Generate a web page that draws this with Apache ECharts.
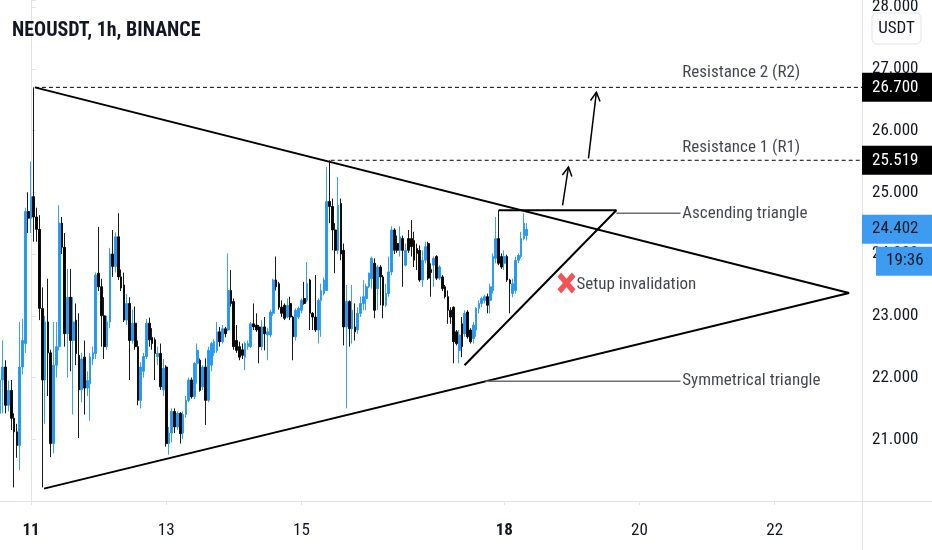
<!DOCTYPE html>
<html><head><meta charset="utf-8">
<script src="https://cdn.jsdelivr.net/npm/echarts@6/dist/echarts.min.js"></script>
<style>html,body{margin:0;padding:0;background:#fff}#c{width:932px;height:550px}</style>
</head><body><div id="c"></div><script>
// hours counted from the 11th 00:00, one candle per hour
const hourStart = -11, hourEnd = 295;
const opens = [21.42,21.96,22.17,21.55,21.79,21.34,21.12,20.90,22.17,22.55,24.69,
24.58,24.93,24.60,24.40,23.12,21.96,22.90,22.40,20.93,22.20,
22.50,24.50,24.11,22.71,23.30,22.60,22.93,22.36,21.80,22.33,
21.83,21.90,22.30,22.39,23.69,23.47,23.00,22.50,22.90,24.00,
23.80,24.28,23.63,23.50,22.93,23.20,22.60,22.88,22.50,21.63,
22.10,22.34,22.88,22.65,22.61,22.34,22.39,21.80,22.17,20.93,
21.10,21.45,21.20,21.42,21.10,21.40,21.63,21.96,21.69,22.23,
22.28,21.85,22.17,21.63,22.20,22.40,22.44,22.74,22.58,22.79,
22.77,23.41,23.23,22.60,22.50,22.45,22.33,22.50,22.50,22.87,
22.85,22.82,22.50,22.82,22.69,22.69,23.04,23.58,23.52,23.14,
23.17,22.98,23.20,22.98,22.66,22.98,23.09,23.28,23.25,23.58,
23.04,22.98,22.77,23.25,23.36,23.41,24.85,24.77,24.39,24.06,
24.82,24.06,22.82,23.23,22.79,22.82,22.77,23.04,23.20,23.28,
23.47,23.60,23.85,23.44,23.79,23.63,23.17,23.36,23.71,24.39,
24.17,24.06,24.25,23.82,24.25,24.25,24.22,24.09,24.06,23.58,
23.90,24.17,23.75,23.82,23.96,23.61,23.63,23.47,23.31,23.09,
23.14,22.74,22.44,22.87,22.71,23.06,22.77,22.63,22.77,23.12,
23.20,23.25,23.31,23.25,23.41,23.93,24.25,23.96,23.85,23.96,
23.58,23.36,23.41,23.90,23.96,24.25,24.30];
const closes = [21.96,22.17,21.55,21.79,21.34,21.12,20.90,22.17,22.60,24.69,24.58,
24.93,24.60,24.40,23.12,21.96,22.90,22.40,20.93,22.20,22.50,
24.50,24.11,22.71,23.30,22.60,22.90,22.39,21.80,22.30,21.83,
21.95,22.33,22.40,23.66,23.47,23.00,22.50,22.90,24.00,23.80,
24.28,23.63,23.45,22.93,23.20,22.60,22.88,22.50,21.63,22.17,
22.34,22.88,22.61,22.55,22.39,22.39,21.85,22.15,20.93,21.10,
21.45,21.20,21.42,21.09,21.40,21.63,21.96,21.69,22.23,22.44,
21.79,22.17,21.63,22.44,22.55,22.58,22.74,22.58,22.79,22.71,
23.41,23.20,22.50,22.44,22.33,22.36,22.55,22.55,22.87,22.82,
22.77,22.50,22.82,22.71,22.74,23.06,23.58,23.47,23.14,23.04,
22.96,23.17,22.98,22.66,23.09,23.12,23.25,23.20,23.52,23.04,
22.98,22.77,23.25,23.41,23.58,24.85,24.77,24.39,24.06,24.79,
24.00,22.82,23.23,22.79,23.09,22.74,23.04,23.20,23.31,23.47,
23.69,23.93,23.09,23.79,23.63,23.17,23.36,23.71,24.39,24.06,
24.06,24.28,24.06,24.06,24.06,24.12,23.90,24.01,23.58,23.90,
24.12,23.61,23.70,23.93,23.61,23.79,23.44,23.31,23.09,22.98,
22.58,22.55,22.69,22.50,23.04,22.66,22.58,22.85,23.12,23.20,
23.28,23.31,23.17,23.47,23.96,24.25,23.85,23.79,23.96,23.58,
23.52,23.52,23.90,23.98,24.25,24.50,24.40];
const lows = [20.88,21.42,21.42,21.45,21.15,20.22,20.70,20.50,22.05,22.40,24.34,
24.34,24.20,24.20,22.93,20.22,21.25,21.70,20.71,20.77,22.00,
22.44,24.00,22.50,22.00,22.10,21.40,22.20,21.02,21.60,21.40,
21.70,21.30,22.20,22.30,23.40,22.50,22.30,22.45,22.80,23.63,
23.70,23.58,23.40,22.90,22.85,21.96,22.55,22.45,21.55,21.50,
22.00,22.30,22.50,22.45,21.96,22.20,21.80,21.70,20.88,20.75,
20.95,21.10,21.15,20.93,21.00,21.35,21.60,21.66,21.65,21.90,
21.77,21.80,21.23,21.60,22.10,22.35,22.40,22.50,22.55,22.65,
22.75,23.15,22.45,22.40,22.28,22.30,22.12,22.45,22.48,22.77,
22.74,22.23,22.44,22.44,22.28,22.65,23.00,23.41,23.10,22.98,
22.93,22.96,22.93,22.28,22.60,22.95,23.04,23.18,23.22,22.77,
22.77,22.74,22.55,22.66,23.33,23.40,24.50,24.06,23.69,24.00,
23.90,22.52,21.50,22.50,22.55,22.60,22.71,22.98,23.09,23.09,
23.45,23.44,22.96,23.09,23.17,22.96,23.14,23.31,23.66,24.00,
24.02,23.96,23.47,23.80,24.02,23.96,23.79,23.74,23.55,23.47,
23.85,23.58,23.31,23.47,23.58,23.58,23.40,23.28,22.87,22.87,
22.23,22.52,22.23,22.33,22.66,22.63,22.55,22.55,22.66,23.04,
23.14,23.20,23.04,23.04,23.36,23.85,23.82,23.76,23.74,23.55,
23.04,23.30,23.36,23.85,23.93,24.22,24.22];
const highs = [22.60,22.60,22.28,21.95,21.96,21.42,21.25,22.90,22.95,24.75,25.00,
25.50,26.70,24.75,24.63,23.46,23.00,23.60,22.45,22.90,22.90,
24.79,24.60,24.34,23.76,23.76,23.30,23.20,23.04,22.40,22.60,
22.10,22.40,22.50,23.70,24.44,23.60,23.30,23.00,24.10,24.39,
24.35,24.66,23.75,23.70,23.35,23.30,23.10,23.15,22.60,22.25,
22.40,22.95,22.97,22.80,22.65,22.50,22.55,22.30,22.20,21.20,
21.50,21.50,21.45,21.44,21.45,21.70,22.00,22.00,22.25,22.55,
22.31,22.20,22.31,22.50,22.58,22.62,22.90,22.82,22.85,22.82,
24.01,23.74,23.28,22.85,22.58,22.55,22.58,22.60,22.90,23.20,
23.04,22.85,22.93,22.98,22.80,23.10,23.60,23.96,23.55,23.25,
23.20,23.28,23.31,23.00,23.12,23.15,23.28,23.55,23.87,23.60,
23.06,23.66,23.28,23.52,23.62,25.41,25.52,24.90,24.50,25.25,
24.90,24.17,23.50,23.25,23.50,23.20,23.14,23.31,23.58,23.52,
23.70,23.96,23.93,23.82,23.82,23.66,23.52,23.96,24.45,24.42,
24.30,24.45,24.30,24.17,24.39,24.55,24.36,24.17,24.14,24.06,
24.20,24.20,23.85,23.96,23.98,23.82,23.66,23.50,23.41,23.14,
23.15,22.77,22.77,22.98,23.09,23.09,22.80,22.90,23.14,23.25,
23.31,23.34,23.36,23.52,24.01,24.60,24.71,24.01,24.06,23.99,
23.60,23.60,23.96,24.01,24.36,24.66,24.50];

const dayTickHours = [0, 48, 96, 168, 216, 264];
const dayTickLabels = ['11', '13', '15', '18', '20', '22'];
const boldTickLabels = ['11', '18'];
const yMin = 20, yMax = 28.115, yStep = 1;
const r2Price = 26.7, r1Price = 25.519, lastPrice = 24.402, countdown = '19:36';
const titleText = 'NEOUSDT, 1h, BINANCE';
const currencyText = 'USDT';

// drawings (hour, price)
const symTriangle = [[1.4, 26.7], [290.4, 23.37], [4.6, 20.2]];
const ascTriangle = [[166, 24.71], [207.8, 24.71], [153.9, 22.2]];
const r2Line = [[1.4, 26.7], [295, 26.7]];
const r1Line = [[106.4, 25.519], [295, 25.519]];
const ascCallout = [[207.8, 24.66], [230.6, 24.66]];
const symCallout = [[161.3, 21.94], [230.6, 21.94]];
const arrowSegments = [[188.7, 24.79, 190.8, 25.41], [197.9, 25.55, 200.7, 26.62]];
const invalidPoint = [190.1, 23.53];
const invalidText = 'Setup invalidation';
const noteNames = ['Resistance 2 (R2)', 'Resistance 1 (R1)', 'Ascending triangle', 'Symmetrical triangle'];
const noteHours = [231.2, 231.2, 231.2, 231.2];
const notePrices = [26.93, 25.72, 24.65, 21.94];

const FONT = "'Liberation Sans Narrow','Roboto Condensed','DejaVu Sans Condensed',Roboto,sans-serif";
const TXT = '#131722';
const FRAME = '#e0e3eb';
const UP = '#2196f3', DOWN = '#000000';

const categories = [];
for (let h = hourStart; h <= hourEnd; h++) categories.push(String(h));
const candles = opens.map((o, i) => [o, closes[i], lows[i], highs[i]]);

const chart = echarts.init(document.getElementById('c'), null, {renderer: 'canvas'});

function lineSeries(data, style) {
  return {type: 'line', xAxisIndex: 1, yAxisIndex: 0, data: data, showSymbol: false, symbol: 'none',
    silent: true, animation: false, z: 5, lineStyle: style};
}

chart.setOption({
  animation: false,
  backgroundColor: '#ffffff',
  grid: {left: 0, right: 70, top: 0, bottom: 49, containLabel: false, outerBoundsMode: 'none'},
  xAxis: [{
    type: 'category', data: categories, boundaryGap: false,
    axisLine: {show: true, lineStyle: {color: FRAME, width: 1}},
    axisTick: {show: true, length: 4, lineStyle: {color: FRAME},
      interval: (i, v) => dayTickHours.indexOf(+v) >= 0},
    axisLabel: {
      interval: (i, v) => dayTickHours.indexOf(+v) >= 0,
      margin: 21, color: TXT, fontSize: 17, fontFamily: FONT,
      formatter: v => {
        const k = dayTickHours.indexOf(+v);
        if (k < 0) return '';
        const s = dayTickLabels[k];
        return boldTickLabels.indexOf(s) >= 0 ? '{b|' + s + '}' : s;
      },
      rich: {b: {fontWeight: 'bold', fontSize: 17, fontFamily: FONT, color: TXT}}
    },
    splitLine: {show: false}
  }, {
    type: 'value', min: hourStart, max: hourEnd, show: false, splitLine: {show: false}
  }],
  yAxis: [{
    type: 'value', position: 'right', min: yMin, max: yMax, interval: yStep, scale: true,
    axisLine: {show: true, lineStyle: {color: FRAME}},
    axisTick: {show: true, length: 5, lineStyle: {color: FRAME}},
    splitLine: {show: false},
    axisLabel: {
      margin: 10, color: TXT, fontSize: 17, fontFamily: FONT,
      formatter: v => (Math.abs(v - Math.round(v)) < 1e-6 && v > yMin + 0.5) ? v.toFixed(3) : ''
    }
  }],
  series: [
    {
      type: 'candlestick', xAxisIndex: 0, yAxisIndex: 0, data: candles, barWidth: 2.2,
      itemStyle: {color: UP, color0: DOWN, borderColor: UP, borderColor0: DOWN, borderWidth: 0.9},
      z: 2
    },
    lineSeries(symTriangle, {color: '#000', width: 2}),
    lineSeries(ascTriangle, {color: '#000', width: 2}),
    lineSeries(r2Line, {color: '#000', width: 1, type: [4, 3]}),
    lineSeries(r1Line, {color: '#000', width: 1, type: [4, 3]}),
    lineSeries(ascCallout, {color: '#6b6e75', width: 1.5}),
    lineSeries(symCallout, {color: '#6b6e75', width: 1.5}),
    {
      type: 'custom', xAxisIndex: 1, yAxisIndex: 0, data: arrowSegments, silent: true, z: 6,
      encode: {x: [0, 2], y: [1, 3]},
      renderItem: (params, api) => {
        const p0 = api.coord([api.value(0), api.value(1)]);
        const p1 = api.coord([api.value(2), api.value(3)]);
        const a = Math.atan2(p1[1] - p0[1], p1[0] - p0[0]);
        const L = 10, s = 0.5;
        const h1 = [p1[0] - L * Math.cos(a - s), p1[1] - L * Math.sin(a - s)];
        const h2 = [p1[0] - L * Math.cos(a + s), p1[1] - L * Math.sin(a + s)];
        return {type: 'group', children: [
          {type: 'line', shape: {x1: p0[0], y1: p0[1], x2: p1[0], y2: p1[1]}, style: {stroke: '#000', lineWidth: 1.5}},
          {type: 'polyline', shape: {points: [h1, p1, h2]}, style: {stroke: '#000', lineWidth: 1.5, fill: null}}
        ]};
      }
    },
    {
      type: 'scatter', xAxisIndex: 1, yAxisIndex: 0, silent: true, z: 7,
      symbol: 'path://M4,0 L10,6 L16,0 L20,4 L14,10 L20,16 L16,20 L10,14 L4,20 L0,16 L6,10 L0,4 Z',
      symbolSize: [18, 21],
      itemStyle: {color: '#f0282d'},
      data: [{name: invalidText, value: invalidPoint}],
      label: {show: true, position: 'right', distance: 1, formatter: '{b}', color: TXT, fontSize: 17, fontFamily: FONT, offset: [0, 2]}
    },
    {
      type: 'scatter', xAxisIndex: 1, yAxisIndex: 0, silent: true, z: 7, symbolSize: 0,
      data: noteNames.map((n, i) => ({name: n, value: [noteHours[i], notePrices[i]]})),
      label: {show: true, position: 'right', distance: 0, formatter: '{b}', color: TXT, fontSize: 17, fontFamily: FONT}
    }
  ]
});

// overlays placed from the axes' own scales
const xr = chart.convertToPixel({xAxisIndex: 1}, hourEnd);
const yb = chart.convertToPixel({yAxisIndex: 0}, yMin);
const W = chart.getWidth(), H = chart.getHeight();
function priceBox(price, text, bg, fg, x0, dy) {
  const y = chart.convertToPixel({yAxisIndex: 0}, price) + (dy || 0);
  return [
    {type: 'rect', shape: {x: x0, y: y - 14.5, width: W - x0, height: 29}, style: {fill: bg}, z: 100},
    {type: 'text', x: x0 + 10, y: y, style: {text: text, fill: fg, font: '17px ' + FONT, textVerticalAlign: 'middle'}, z: 101}
  ];
}
const g = [];
g.push({type: 'line', shape: {x1: xr + 0.5, y1: 0, x2: xr + 0.5, y2: H}, style: {stroke: FRAME, lineWidth: 1}, z: 90});
g.push({type: 'line', shape: {x1: 0, y1: yb + 0.5, x2: W, y2: yb + 0.5}, style: {stroke: FRAME, lineWidth: 1}, z: 90});
g.push(...priceBox(r2Price, r2Price.toFixed(3), '#000', '#fff', xr));
g.push(...priceBox(r1Price, r1Price.toFixed(3), '#000', '#fff', xr));
g.push(...priceBox(lastPrice, lastPrice.toFixed(3), '#3d9cf0', TXT, xr));
g.push(...priceBox(lastPrice, countdown, '#3d9cf0', TXT, xr + 14, 32));
g.push({type: 'rect', shape: {x: xr + 10, y: 13, width: 49, height: 31, r: 5}, style: {fill: '#fff', stroke: FRAME, lineWidth: 1}, z: 100});
g.push({type: 'text', x: xr + 34.5, y: 29, style: {text: currencyText, fill: TXT, font: '17px ' + FONT, textAlign: 'center', textVerticalAlign: 'middle'}, z: 101});
g.push({type: 'text', x: 12, y: 31, style: {text: titleText, fill: TXT, font: 'bold 20px ' + FONT, textVerticalAlign: 'middle'}, z: 101});
chart.setOption({graphic: g});
</script></body></html>
